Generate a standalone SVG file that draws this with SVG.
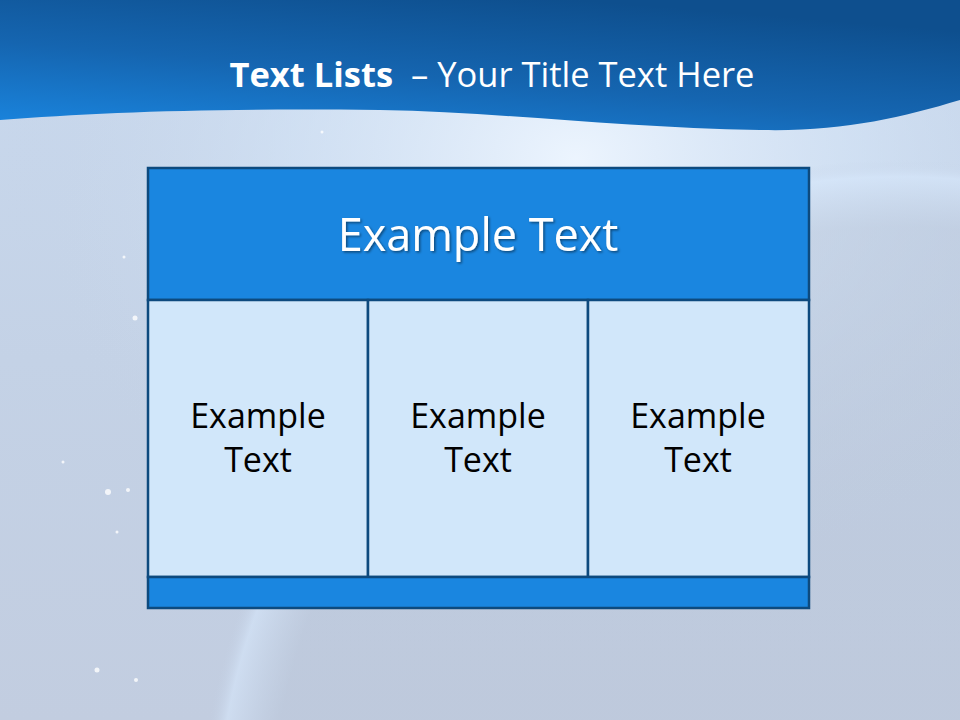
<svg xmlns="http://www.w3.org/2000/svg" width="960" height="720" viewBox="0 0 960 720">
<defs>
<linearGradient id="bg" x1="0" y1="0" x2="0" y2="1">
<stop offset="0" stop-color="#c9d9ee"/>
<stop offset="0.5" stop-color="#c4d2e6"/>
<stop offset="1" stop-color="#c2cde0"/>
</linearGradient>
<radialGradient id="glow" cx="0.6" cy="0.22" r="0.6">
<stop offset="0" stop-color="#eef6ff" stop-opacity="0.95"/>
<stop offset="0.5" stop-color="#d6e6f8" stop-opacity="0.55"/>
<stop offset="1" stop-color="#c4d2e6" stop-opacity="0"/>
</radialGradient>
<radialGradient id="planet" cx="0.5" cy="0.5" r="0.5">
<stop offset="0.9" stop-color="#b9c5d8" stop-opacity="0.45"/>
<stop offset="0.975" stop-color="#d6e7fb" stop-opacity="0.6"/>
<stop offset="1" stop-color="#c4d2e6" stop-opacity="0"/>
</radialGradient>
<linearGradient id="band" x1="0" y1="1" x2="0.6" y2="0">
<stop offset="0" stop-color="#1a86e0"/>
<stop offset="0.5" stop-color="#1565b0"/>
<stop offset="1" stop-color="#0e4f8e"/>
</linearGradient>
<filter id="sh" x="-10%" y="-20%" width="120%" height="150%">
<feDropShadow dx="1.5" dy="1.5" stdDeviation="1" flood-color="#000" flood-opacity="0.45"/>
</filter>
<style>
.box{stroke:#0d4a7e;stroke-width:2.5}
.hdr{fill:#1a86e0}
.cell{fill:#d1e7fa}
.ct{font-family:"Open Sans","Noto Sans",sans-serif;font-size:34px;fill:#000;text-anchor:middle}
</style>
</defs>
<rect width="960" height="720" fill="url(#bg)"/>
<rect width="960" height="720" fill="url(#glow)"/>
<ellipse cx="900" cy="830" rx="700" ry="670" fill="url(#planet)"/>
<path d="M0,0 H960 V100 C900,118 840,132 760,130 C620,128 500,112 380,110 C220,108 100,112 0,120 Z" fill="url(#band)"/>
<g fill="#fff" opacity="0.8">
<circle cx="135" cy="318" r="2.5"/><circle cx="108" cy="492" r="3"/><circle cx="128" cy="490" r="2"/><circle cx="63" cy="462" r="1.5"/><circle cx="117" cy="532" r="1.5"/><circle cx="97" cy="670" r="2.5"/><circle cx="136" cy="680" r="2"/><circle cx="124" cy="257" r="1.5"/><circle cx="322" cy="132" r="1.5"/>
</g>
<g id="title">
<text x="492" y="87" text-anchor="middle" font-family="Open Sans,'Noto Sans',sans-serif" font-size="34.5" fill="#fff" xml:space="preserve"><tspan font-weight="bold">Text Lists</tspan>  – Your Title Text Here</text>
</g>
<g id="header">
<rect class="box hdr" x="148" y="168" width="661" height="132"/>
<text x="478" y="251" text-anchor="middle" font-family="Open Sans,'Noto Sans',sans-serif" font-size="45" fill="#fff" filter="url(#sh)">Example Text</text>
</g>
<g id="cell1">
<rect class="box cell" x="148" y="300" width="220" height="277"/>
<text class="ct" x="258" y="428">Example</text>
<text class="ct" x="258" y="472">Text</text>
</g>
<g id="cell2">
<rect class="box cell" x="368" y="300" width="220" height="277"/>
<text class="ct" x="478" y="428">Example</text>
<text class="ct" x="478" y="472">Text</text>
</g>
<g id="cell3">
<rect class="box cell" x="588" y="300" width="221" height="277"/>
<text class="ct" x="698" y="428">Example</text>
<text class="ct" x="698" y="472">Text</text>
</g>
<g id="footer">
<rect class="box hdr" x="148" y="577" width="661" height="31"/>
</g>
<g id="connectors"/>
</svg>
